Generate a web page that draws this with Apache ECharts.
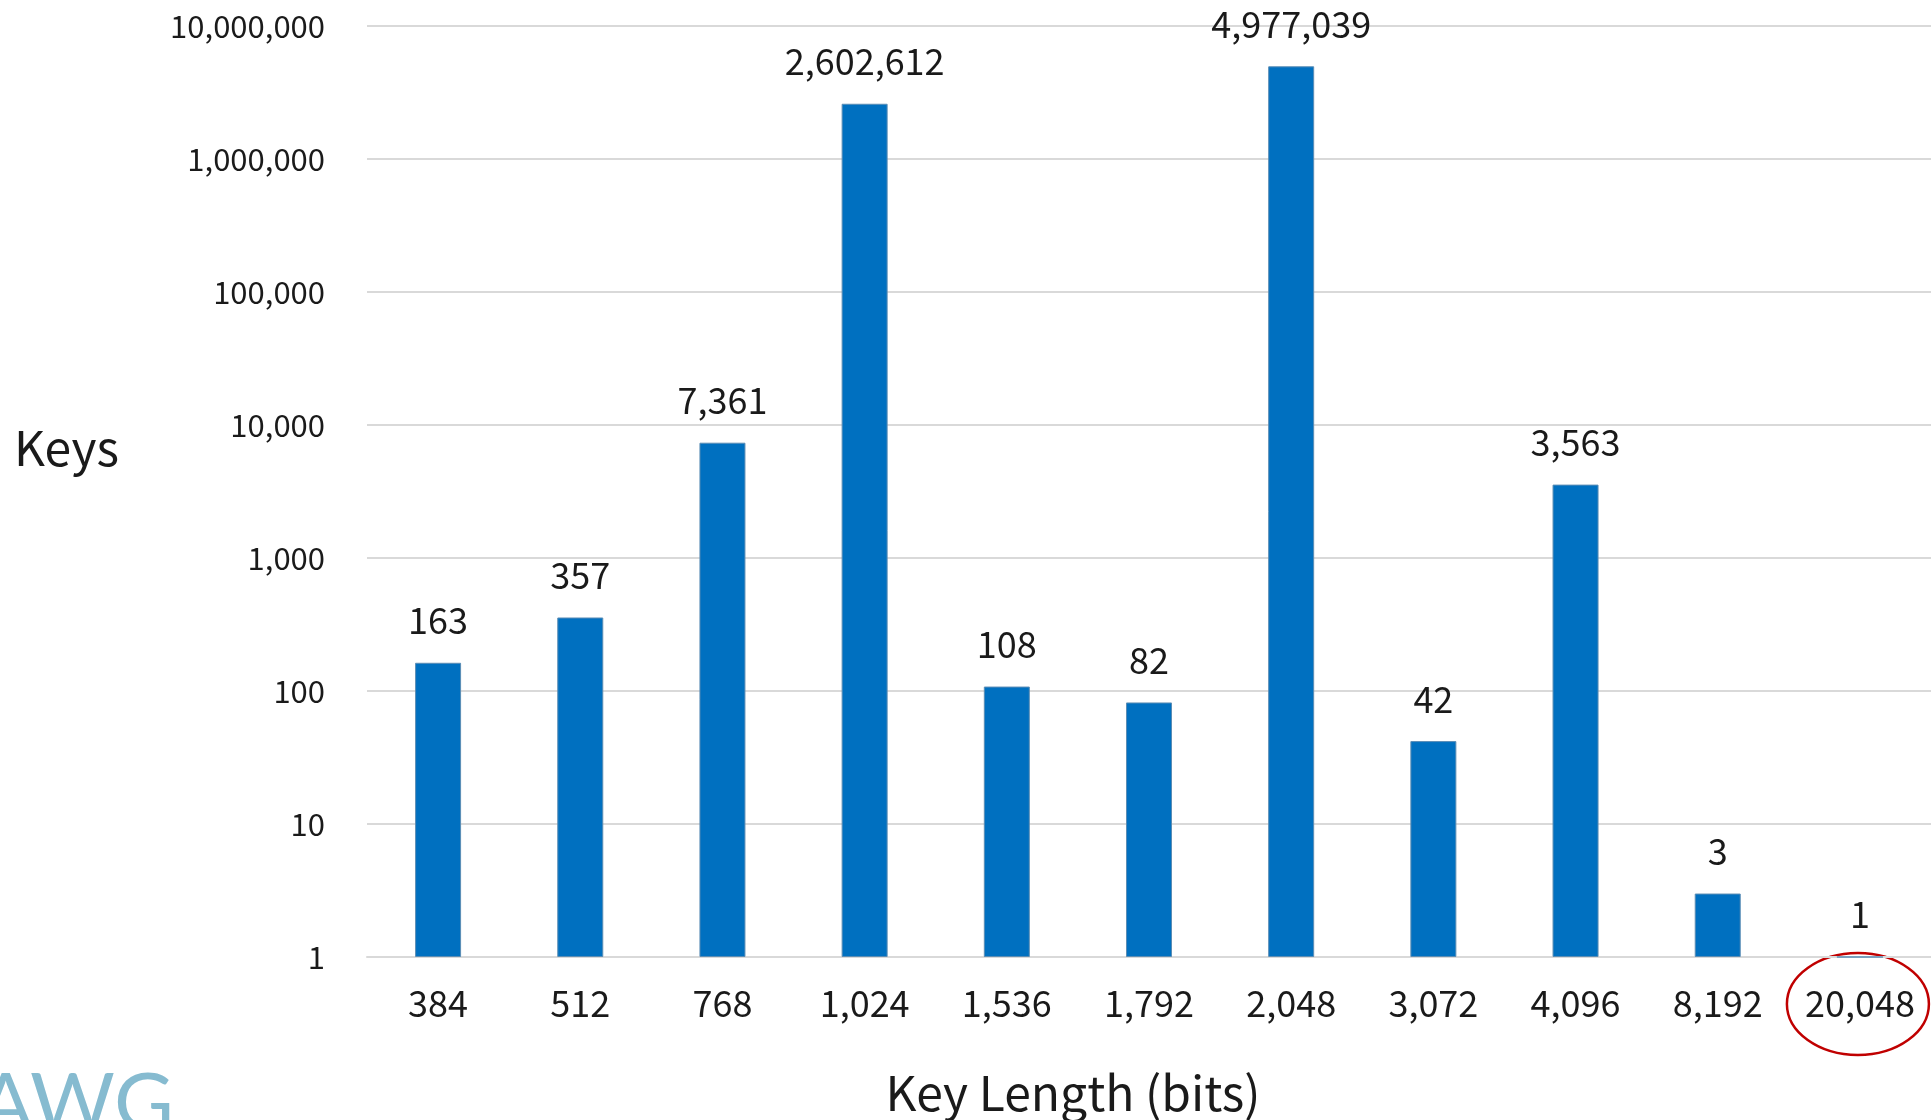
<!DOCTYPE html>
<html>
<head>
<meta charset="utf-8">
<title>Key Length (bits)</title>
<script src="https://cdn.jsdelivr.net/npm/echarts@6/dist/echarts.min.js"></script>
<style>
  html, body { margin: 0; padding: 0; background: #ffffff; }
  #chart { width: 1931px; height: 1120px; }
</style>
</head>
<body>
<div id="chart"></div>
<script>
// Key lengths observed (bits) and number of keys for each length
const keyLengths = ['384', '512', '768', '1,024', '1,536', '1,792', '2,048', '3,072', '4,096', '8,192', '20,048'];
const keyCounts = [163, 357, 7361, 2602612, 108, 82, 4977039, 42, 3563, 3, 1];
const yTicks = [1, 10, 100, 1000, 10000, 100000, 1000000, 10000000];

const FONT = '"Noto Sans CJK JP", "Noto Sans", sans-serif';
const fmt = v => Number(v).toLocaleString('en-US');

const chart = echarts.init(document.getElementById('chart'), null, { renderer: 'canvas' });

const option = {
  animation: false,
  backgroundColor: '#ffffff',
  grid: { left: 367, right: -4, top: 26, bottom: 163, containLabel: false },
  xAxis: {
    type: 'category',
    data: keyLengths,
    axisLine: { show: true, lineStyle: { color: '#d9d9d9', width: 2 } },
    axisTick: { show: false },
    axisLabel: { interval: 0, color: '#1a1a1a', fontFamily: FONT, fontSize: 36, margin: 28 },
    splitLine: { show: false }
  },
  yAxis: {
    type: 'log',
    logBase: 10,
    min: yTicks[0],
    max: yTicks[yTicks.length - 1],
    axisLine: { show: false },
    axisTick: { show: false },
    axisLabel: {
      color: '#1a1a1a', fontFamily: FONT, fontSize: 31, margin: 42,
      formatter: v => fmt(v)
    },
    splitLine: { show: true, lineStyle: { color: '#d9d9d9', width: 2 } }
  },
  series: [{
    type: 'bar',
    data: keyCounts,
    barWidth: 46,
    itemStyle: { color: '#0070c0', borderColor: '#5b8db5', borderWidth: 1 },
    label: {
      show: true,
      position: 'top',
      distance: 24,
      color: '#1a1a1a',
      fontFamily: FONT,
      fontSize: 36,
      formatter: p => fmt(p.value)
    }
  }],
  graphic: [
    {
      id: 'yName',
      type: 'text',
      left: 14,
      top: 424,
      style: { text: 'Keys', fill: '#1a1a1a', font: '48px ' + FONT }
    },
    {
      id: 'xName',
      type: 'text',
      x: 1073,
      y: 1093,
      style: {
        text: 'Key Length (bits)', fill: '#1a1a1a', font: '48px ' + FONT,
        textAlign: 'center', textVerticalAlign: 'middle'
      }
    },
    {
      id: 'logo',
      type: 'text',
      x: -22,
      y: 1064,
      style: { text: 'AWG', fill: '#86bbd0', font: '82px Lato, "Open Sans", sans-serif' }
    }
  ]
};

chart.setOption(option);

// Red ring highlighting the longest key length on the axis
const last = keyLengths[keyLengths.length - 1];
const pt = chart.convertToPixel({ xAxisIndex: 0 }, last);
const axisY = chart.convertToPixel({ yAxisIndex: 0 }, yTicks[0]);
chart.setOption({
  graphic: [
    {
      id: 'ring',
      type: 'ellipse',
      shape: { cx: pt - 2, cy: axisY + 47, rx: 71, ry: 51 },
      style: { fill: 'none', stroke: '#c00000', lineWidth: 2.5 }
    }
  ]
});
</script>
</body>
</html>
